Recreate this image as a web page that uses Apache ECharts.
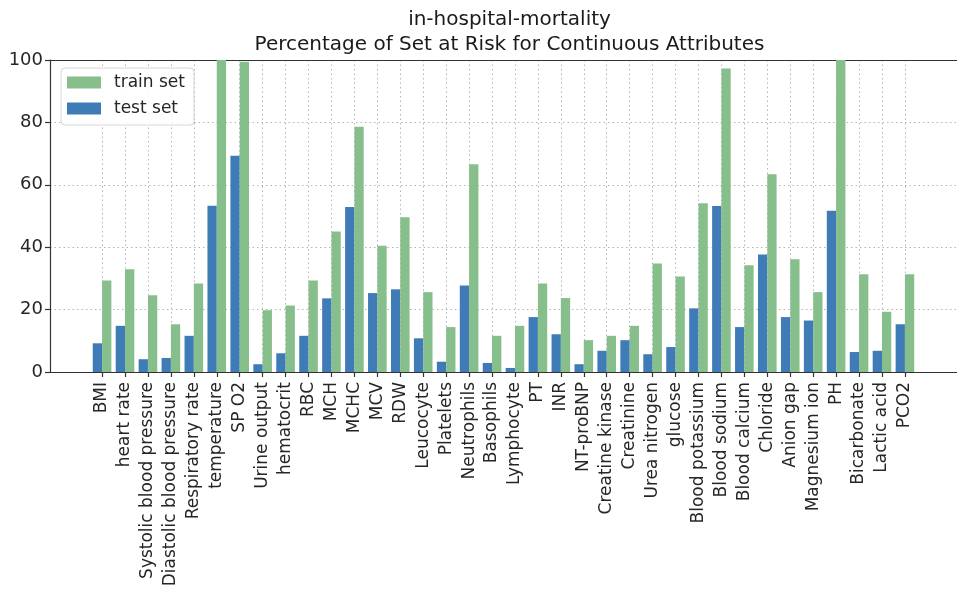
<!DOCTYPE html>
<html>
<head>
<meta charset="utf-8">
<script src="https://cdn.jsdelivr.net/npm/echarts@6/dist/echarts.min.js"></script>
<style>
html,body{margin:0;padding:0;background:#fff;}
#chart{width:957px;height:594px;}
</style>
</head>
<body>
<div id="chart"></div>
<script>
var categories = ["BMI","heart rate","Systolic blood pressure","Diastolic blood pressure","Respiratory rate","temperature","SP O2","Urine output","hematocrit","RBC","MCH","MCHC","MCV","RDW","Leucocyte","Platelets","Neutrophils","Basophils","Lymphocyte","PT","INR","NT-proBNP","Creatine kinase","Creatinine","Urea nitrogen","glucose","Blood potassium","Blood sodium","Blood calcium","Chloride","Anion gap","Magnesium ion","PH","Bicarbonate","Lactic acid","PCO2"];
var testSet = [9.2,14.8,4.1,4.5,11.6,53.3,69.3,2.5,6.0,11.6,23.6,52.9,25.3,26.5,10.8,3.3,27.7,2.9,1.3,17.6,12.1,2.5,6.8,10.2,5.7,8.0,20.4,53.2,14.4,37.7,17.6,16.5,51.7,6.4,6.8,15.3];
var trainSet = [29.3,32.9,24.6,15.3,28.4,100,99.4,19.8,21.3,29.3,45.0,78.6,40.5,49.6,25.6,14.4,66.6,11.6,14.8,28.4,23.7,10.2,11.6,14.8,34.8,30.6,54.1,97.3,34.2,63.4,36.1,25.6,100,31.3,19.3,31.3];
var yTicks = [0,20,40,60,80,100];
var titleLines = ["in-hospital-mortality","Percentage of Set at Risk for Continuous Attributes"];

var FONT = "DejaVu Sans";
var idx = categories.map(function(_, i){ return i; });
function pairs(arr){ return arr.map(function(v, i){ return [i, v]; }); }

var chart = echarts.init(document.getElementById('chart'), null, {renderer:'canvas'});
chart.setOption({
  animation: false,
  backgroundColor: '#fff',
  title: {
    text: titleLines.join('\n'),
    left: 509.5,
    top: 7,
    textAlign: 'center',
    padding: 0,
    textStyle: {fontFamily: FONT, fontSize: 20, fontWeight: 'normal', color: '#1a1a1a', lineHeight: 25}
  },
  legend: {
    orient: 'vertical',
    left: 61,
    top: 68,
    data: ['train set','test set'],
    icon: 'rect',
    itemWidth: 34,
    itemHeight: 12,
    itemGap: 9,
    padding: [6, 9, 8, 6],
    borderColor: '#d6d6d6',
    borderWidth: 1,
    borderRadius: 4,
    backgroundColor: 'rgba(255,255,255,0.85)',
    textStyle: {fontFamily: FONT, fontSize: 17, color: '#262626', padding: [0,0,0,8]}
  },
  grid: {left: 50, right: -12, top: 60, bottom: 222, containLabel: false},
  xAxis: [{
    type: 'value',
    min: -2.27,
    max: 37.27,
    axisLine: {show: true, onZero: false, lineStyle: {color: '#333', width: 1.2}},
    axisTick: {show: true, length: 5, customValues: idx, lineStyle: {color: '#333', width: 1.2}},
    axisLabel: {show: true, customValues: idx, rotate: 90, margin: 10, fontFamily: FONT, fontSize: 17, color: '#262626',
      formatter: function(v){ return categories[Math.round(v)]; }},
    splitLine: {show: true, lineStyle: {color: '#b5b5b5', type: [1.5, 3], width: 1}}
  },{
    type: 'value',
    position: 'top',
    min: -2.27,
    max: 37.27,
    axisLine: {show: true, onZero: false, lineStyle: {color: '#333', width: 1.2}},
    axisTick: {show: false},
    axisLabel: {show: false},
    splitLine: {show: false}
  }],
  yAxis: {
    type: 'value',
    min: 0,
    max: 100,
    interval: 20,
    axisLine: {show: true, onZero: false, lineStyle: {color: '#333', width: 1.2}},
    axisTick: {show: true, length: 5, lineStyle: {color: '#333', width: 1.2}},
    axisLabel: {margin: 7, fontFamily: FONT, fontSize: 18, color: '#262626'},
    splitLine: {show: true, lineStyle: {color: '#b5b5b5', type: [1.5, 3], width: 1}}
  },
  series: [{
    name: 'test set',
    type: 'bar',
    data: pairs(testSet),
    barWidth: 9.3,
    barGap: '0%',
    itemStyle: {color: '#3f7bb7'}
  },{
    name: 'train set',
    type: 'bar',
    data: pairs(trainSet),
    barWidth: 9.3,
    barGap: '0%',
    itemStyle: {color: '#86bf8b'}
  }]
});
</script>
</body>
</html>
